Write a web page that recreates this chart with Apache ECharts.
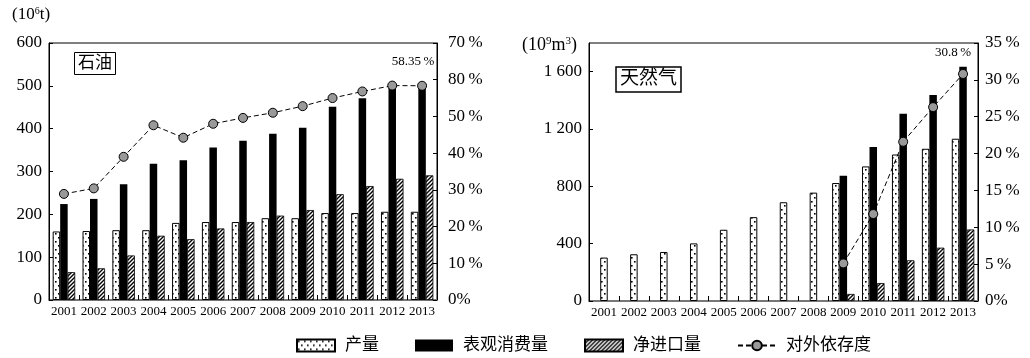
<!DOCTYPE html>
<html>
<head>
<meta charset="utf-8">
<script src="https://cdn.jsdelivr.net/npm/echarts@6/dist/echarts.min.js"></script>
<style>html,body{margin:0;padding:0;background:#fff}#c{width:1030px;height:358px}</style>
</head>
<body>
<div id="c"></div>
<script>
const years = ['2001','2002','2003','2004','2005','2006','2007','2008','2009','2010','2011','2012','2013'];
// Oil (10^6 t)
const oilProduction  = [160,161,163,163,180,182,182,191,191,203,203,206,206];
const oilConsumption = [224,236,270,318,326,356,372,388,402,451,471,498,503];
const oilNetImport   = [65,74,104,150,142,167,182,197,210,247,266,283,291];
const oilDependence  = [28.9,30.4,39.0,47.6,44.2,48.0,49.6,51.0,52.8,55.0,56.8,58.4,58.35];
const oilRightTicks  = ['0%','10\u2009%','20\u2009%','30\u2009%','40\u2009%','50\u2009%','80\u2009%','70\u2009%'];
// Natural gas (10^9 m^3)
const gasProduction  = [303,326,342,402,497,585,689,756,823,939,1022,1062,1132];
const gasConsumption = [null,null,null,null,null,null,null,null,874,1074,1306,1438,1635];
const gasNetImport   = [null,null,null,null,null,null,null,null,49,125,284,372,499];
const gasDependence  = [null,null,null,null,null,null,null,null,5.1,11.8,21.6,26.3,30.8];
const gasLeftTicks   = {0:'0',400:'400',800:'800',1200:'1 200',1600:'1 600'};

const SERIF = "'Liberation Serif','Noto Sans CJK SC',serif";

function dotPattern(){
  const c=document.createElement('canvas');c.width=6;c.height=8;
  const g=c.getContext('2d');g.fillStyle='#fff';g.fillRect(0,0,6,8);
  g.fillStyle='#000';g.fillRect(1,1,1.6,1.6);g.fillRect(4,5,1.6,1.6);
  return {image:c,repeat:'repeat'};
}
function hatchPattern(){
  const c=document.createElement('canvas');c.width=4;c.height=4;
  const g=c.getContext('2d');g.fillStyle='#fff';g.fillRect(0,0,4,4);
  g.strokeStyle='#000';g.lineWidth=1.4;
  g.beginPath();g.moveTo(0,4);g.lineTo(4,0);g.moveTo(-1,1);g.lineTo(1,-1);g.moveTo(3,5);g.lineTo(5,3);g.stroke();
  return {image:c,repeat:'repeat'};
}
const DOT = dotPattern(), HATCH = hatchPattern();

const barW = 7.5;
const prodStyle = {color:DOT,borderColor:'#000',borderWidth:1};
const consStyle = {color:'#000'};
const impStyle  = {color:HATCH,borderColor:'#000',borderWidth:0.8};
const lineStyle = {type:[5,3],color:'#000',width:1};
const symStyle  = {color:'#999',borderColor:'#000',borderWidth:1};

function xAxisDef(gi){
  return {type:'category',gridIndex:gi,data:years,
    axisLine:{lineStyle:{color:'#777',width:2}},
    axisTick:{show:true,inside:true,length:5,lineStyle:{color:'#000'}},
    axisLabel:{interval:0,color:'#000',fontFamily:SERIF,fontSize:13,margin:5}};
}
function yAxisDef(gi,opts){
  return Object.assign({type:'value',gridIndex:gi,min:0,
    splitLine:{show:false},
    axisLine:{show:true,lineStyle:{color:'#000',width:1}},
    axisTick:{show:true,inside:true,length:4,lineStyle:{color:'#000'}},
    axisLabel:{color:'#000',fontFamily:SERIF,fontSize:17,margin:7}},opts);
}

const chart = echarts.init(document.getElementById('c'));
chart.setOption({
  animation:false,
  backgroundColor:'#fff',
  title:[
    {text:'石油',left:74,top:52,padding:[3,4,3,4],borderColor:'#000',borderWidth:1,
      textStyle:{fontFamily:SERIF,fontSize:17,fontWeight:'normal',color:'#000'}},
    {text:'天然气',left:616,top:67,padding:[3,4,3,4],borderColor:'#000',borderWidth:1.5,
      textStyle:{fontFamily:SERIF,fontSize:19,fontWeight:'normal',color:'#000'}}
  ],
  graphic:[
    {type:'text',left:12,top:6,style:{text:'(10{s|6}t)',font:'17px '+SERIF,fill:'#000',
      rich:{s:{fontSize:10,fontFamily:SERIF,padding:[0,0,7,0]}}}},
    {type:'text',left:522,top:36,style:{text:'(10{s|9}m{s|3})',font:'18px '+SERIF,fill:'#000',
      rich:{s:{fontSize:11,fontFamily:SERIF,padding:[0,0,7,0]}}}}
  ],
  legend:{
    left:291,top:332,itemWidth:38,itemHeight:12,itemGap:36,
    textStyle:{fontFamily:SERIF,fontSize:17,color:'#000',padding:[0,0,0,5]},
    data:[{name:'产量',icon:'rect'},{name:'表观消费量',icon:'rect'},{name:'净进口量',icon:'rect'},'对外依存度']
  },
  grid:[
    {left:49,right:593,top:43,bottom:58,show:true,borderColor:'#000',borderWidth:1},
    {left:589,right:52,top:43,bottom:57,show:true,borderColor:'#000',borderWidth:1}
  ],
  xAxis:[xAxisDef(0),xAxisDef(1)],
  yAxis:[
    yAxisDef(0,{max:600,interval:100}),
    yAxisDef(0,{max:70,interval:10,position:'right',
      axisLabel:{color:'#000',fontFamily:SERIF,fontSize:17,margin:11,formatter:(v)=>oilRightTicks[Math.round(v/10)]}}),
    yAxisDef(1,{max:1800,interval:400,
      axisLabel:{color:'#000',fontFamily:SERIF,fontSize:17,margin:7,showMaxLabel:false,formatter:(v)=>gasLeftTicks[v]||''}}),
    yAxisDef(1,{max:35,interval:5,position:'right',
      axisLabel:{color:'#000',fontFamily:SERIF,fontSize:17,margin:7,formatter:(v)=>v+(v?'\u2009%':'%')}})
  ],
  series:[
    {name:'产量',type:'bar',xAxisIndex:0,yAxisIndex:0,data:oilProduction,barWidth:barW,barGap:0,itemStyle:prodStyle},
    {name:'表观消费量',type:'bar',xAxisIndex:0,yAxisIndex:0,data:oilConsumption,barWidth:barW,barGap:0,itemStyle:consStyle},
    {name:'净进口量',type:'bar',xAxisIndex:0,yAxisIndex:0,data:oilNetImport,barWidth:barW,barGap:0,itemStyle:impStyle},
    {name:'对外依存度',type:'line',xAxisIndex:0,yAxisIndex:1,data:oilDependence,symbol:'circle',symbolSize:9,
      lineStyle:lineStyle,itemStyle:symStyle,z:5,
      label:{show:true,formatter:(p)=>p.dataIndex===12?'58.35\u2009%':'',position:'top',offset:[-9,-8],
        fontFamily:SERIF,fontSize:13,color:'#000'}},

    {name:'产量',type:'bar',xAxisIndex:1,yAxisIndex:2,data:gasProduction.map((v,i)=>gasConsumption[i]==null?null:v),barWidth:barW,barGap:0,itemStyle:prodStyle},
    {name:'表观消费量',type:'bar',xAxisIndex:1,yAxisIndex:2,stack:'mid',data:gasConsumption,barWidth:barW,barGap:0,itemStyle:consStyle},
    {name:'产量',type:'bar',xAxisIndex:1,yAxisIndex:2,stack:'mid',data:gasProduction.map((v,i)=>gasConsumption[i]==null?v:null),barWidth:barW,barGap:0,itemStyle:prodStyle},
    {name:'净进口量',type:'bar',xAxisIndex:1,yAxisIndex:2,data:gasNetImport,barWidth:barW,barGap:0,itemStyle:impStyle},
    {name:'对外依存度',type:'line',xAxisIndex:1,yAxisIndex:3,data:gasDependence,symbol:'circle',symbolSize:9,
      lineStyle:lineStyle,itemStyle:symStyle,z:5,
      label:{show:true,formatter:(p)=>p.dataIndex===12?'30.8\u2009%':'',position:'top',offset:[-10,-5],
        fontFamily:SERIF,fontSize:13,color:'#000'}}
  ]
});
</script>
</body>
</html>
